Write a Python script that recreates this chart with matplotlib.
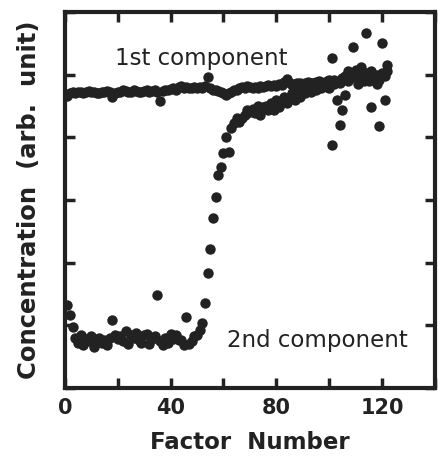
import numpy as np
import matplotlib
matplotlib.use('Agg')
import matplotlib.pyplot as plt
from matplotlib.ticker import MultipleLocator, FuncFormatter

# Factor number 1..122
factor = np.arange(1, 123)

# 1st component
comp1 = [4.66, 4.70, 4.72, 4.71, 4.73, 4.72, 4.70, 4.72, 4.74, 4.73,
         4.72, 4.70, 4.71, 4.73, 4.72, 4.74, 4.72, 4.64, 4.70, 4.72,
         4.73, 4.75, 4.74, 4.72, 4.73, 4.75, 4.74, 4.73, 4.72, 4.74,
         4.75, 4.73, 4.74, 4.76, 4.72, 4.58, 4.74, 4.76, 4.75, 4.77,
         4.78, 4.76, 4.80, 4.82, 4.79, 4.80, 4.78, 4.79, 4.80, 4.78,
         4.80, 4.79, 4.81, 4.96, 4.78, 4.76, 4.75, 4.74, 4.72, 4.70,
         4.68, 4.70, 4.72, 4.75, 4.76, 4.78, 4.80, 4.79, 4.82, 4.80,
         4.78, 4.80, 4.79, 4.81, 4.80, 4.82, 4.83, 4.81, 4.84, 4.82,
         4.85, 4.84, 4.88, 4.93, 4.86, 4.84, 4.85, 4.87, 4.86, 4.85,
         4.86, 4.88, 4.87, 4.86, 4.88, 4.90, 4.88, 4.87, 4.90, 4.92,
         5.26, 4.92, 4.88, 4.86, 4.95, 4.98, 5.05, 4.95, 5.00, 5.08,
         4.98, 5.12, 4.95, 5.02, 4.90, 5.05, 4.95, 5.00, 4.92, 5.02,
         4.98, 5.05]

# 2nd component
comp2 = [1.32, 1.16, 0.97, 0.80, 0.72, 0.85, 0.68, 0.78, 0.75, 0.82,
         0.65, 0.78, 0.80, 0.72, 0.76, 0.68, 0.80, 1.08, 0.84, 0.78,
         0.82, 0.74, 0.90, 0.70, 0.85, 0.80, 0.88, 0.76, 0.72, 0.84,
         0.86, 0.70, 0.78, 0.82, 1.48, 0.75, 0.68, 0.80, 0.72, 0.86,
         0.78, 0.84, 0.76, 0.76, 0.68, 1.13, 0.70, 0.74, 0.82, 0.85,
         0.93, 1.03, 1.35, 1.83, 2.21, 2.71, 3.05, 3.40, 3.53, 3.75,
         4.00, 3.77, 4.14, 4.22, 4.30, 4.25, 4.30, 4.35, 4.43, 4.40,
         4.45, 4.38, 4.50, 4.35, 4.48, 4.50, 4.43, 4.55, 4.43, 4.60,
         4.48, 4.58, 4.65, 4.55, 4.62, 4.70, 4.60, 4.72, 4.65, 4.75,
         4.70, 4.78, 4.72, 4.80, 4.75, 4.82, 4.78, 4.85, 4.80, 4.78,
         3.88, 4.85, 4.60, 4.20, 4.43, 4.67, 4.90, 5.00, 5.44, 4.95,
         4.85, 5.05, 4.90, 5.66, 4.95, 4.48, 5.00, 4.85, 4.18, 5.50,
         4.60, 5.15]

ink = '#222222'
plt.rcParams['font.family'] = ['DejaVu Sans']

fig = plt.figure(figsize=(4.38, 4.59), dpi=100)
ax = fig.add_axes([0.148, 0.155, 0.845, 0.819])

ax.plot(factor, comp1, 'o', color=ink, markersize=7.5, markeredgewidth=0)
ax.plot(factor, comp2, 'o', color=ink, markersize=7.5, markeredgewidth=0)

ax.text(19, 5.15, '1st component', fontsize=16.5, color=ink)
ax.text(61.5, 0.65, '2nd component', fontsize=16.5, color=ink)

ax.set_xlim(0, 140)
ax.set_ylim(0, 6)
ax.xaxis.set_major_locator(MultipleLocator(20))
ax.yaxis.set_major_locator(MultipleLocator(1))
ax.xaxis.set_major_formatter(FuncFormatter(lambda v, p: '%d' % v if v % 40 == 0 else ''))
ax.set_yticklabels([])
ax.tick_params(direction='in', length=7, width=2.5, top=True, right=True,
               colors=ink, labelsize=15, pad=7)
for lab in ax.get_xticklabels():
    lab.set_fontweight('bold')
for s in ax.spines.values():
    s.set_linewidth(3)
    s.set_color(ink)

ax.set_xlabel('Factor  Number', fontsize=16.5, fontweight='bold', color=ink, labelpad=10)
ax.set_ylabel('Concentration  (arb.  unit)', fontsize=17.5, fontweight='bold', color=ink, labelpad=10)

fig.savefig('out.png', dpi=100)
